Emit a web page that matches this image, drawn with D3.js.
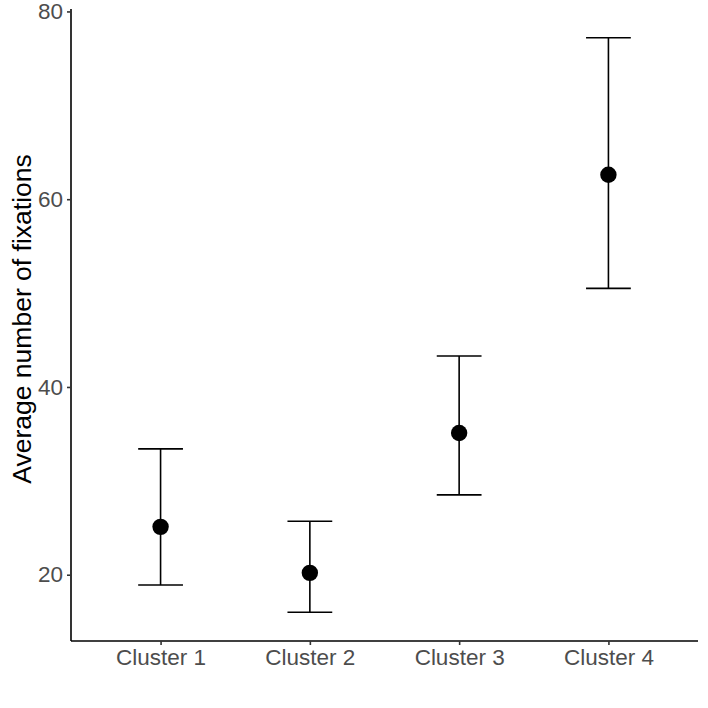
<!DOCTYPE html>
<html>
<head>
<meta charset="utf-8">
<script src="https://cdn.jsdelivr.net/npm/d3@7"></script>
<style>
  body { margin: 0; background: #fff; }
  text { font-family: "Liberation Sans", Arial, sans-serif; }
</style>
</head>
<body>
<div id="chart"></div>
<script>
// values
const clusters = ["Cluster 1", "Cluster 2", "Cluster 3", "Cluster 4"];
const means = [25.1, 20.2, 35.1, 62.6];
const lower = [18.9, 16.0, 28.5, 50.5];
const upper = [33.4, 25.7, 43.3, 77.2];
const yTicks = [20, 40, 60, 80];

const width = 708, height = 708;
const margin = {top: 9, right: 10, bottom: 67, left: 71};

const data = clusters.map((c, i) => ({name: c, mean: means[i], lo: lower[i], hi: upper[i]}));

const svg = d3.select("#chart").append("svg")
  .attr("width", width)
  .attr("height", height);

// ggplot style expansion: discrete +-0.6, continuous 5%
const x = d3.scalePoint()
  .domain(clusters)
  .range([margin.left, width - margin.right])
  .padding(0.6);

const yMin = d3.min(lower), yMax = d3.max(upper);
const pad = (yMax - yMin) * 0.05;
const y = d3.scaleLinear()
  .domain([yMin - pad, yMax + pad])
  .range([height - margin.bottom, margin.top]);

const step = x.step();
const capW = step * 0.3;

// axes
const yAxis = svg.append("g")
  .attr("transform", `translate(${margin.left},0)`)
  .call(d3.axisLeft(y).tickValues(yTicks).tickSize(4).tickPadding(4));
const xAxis = svg.append("g")
  .attr("transform", `translate(0,${height - margin.bottom})`)
  .call(d3.axisBottom(x).tickSize(4).tickPadding(4));

[yAxis, xAxis].forEach(g => {
  g.select(".domain").attr("stroke", "#000").attr("stroke-width", 1.6);
  g.selectAll(".tick line").attr("stroke", "#333").attr("stroke-width", 1.6);
  g.selectAll(".tick text")
    .attr("fill", "#4d4d4d")
    .style("font-size", "22.5px");
});
// domain without outer ticks
yAxis.select(".domain").attr("d", `M0,${y.range()[0]}V${y.range()[1]}`);
xAxis.select(".domain").attr("d", `M${margin.left},0H${width - margin.right}`);

svg.append("text")
  .attr("transform", `translate(${31},${(y.range()[0] + y.range()[1]) / 2 - 6}) rotate(-90)`)
  .attr("text-anchor", "middle")
  .style("font-size", "26.5px")
  .attr("fill", "#000")
  .text("Average number of fixations");

// error bars
const bars = svg.append("g")
  .attr("stroke", "#000")
  .attr("stroke-width", 1.6)
  .selectAll("g")
  .data(data)
  .join("g");

bars.append("line")
  .attr("x1", d => x(d.name)).attr("x2", d => x(d.name))
  .attr("y1", d => y(d.lo)).attr("y2", d => y(d.hi));
bars.append("line")
  .attr("x1", d => x(d.name) - capW / 2).attr("x2", d => x(d.name) + capW / 2)
  .attr("y1", d => y(d.hi)).attr("y2", d => y(d.hi));
bars.append("line")
  .attr("x1", d => x(d.name) - capW / 2).attr("x2", d => x(d.name) + capW / 2)
  .attr("y1", d => y(d.lo)).attr("y2", d => y(d.lo));

svg.append("g")
  .selectAll("circle")
  .data(data)
  .join("circle")
    .attr("cx", d => x(d.name))
    .attr("cy", d => y(d.mean))
    .attr("r", 8.2)
    .attr("fill", "#000");
</script>
</body>
</html>
